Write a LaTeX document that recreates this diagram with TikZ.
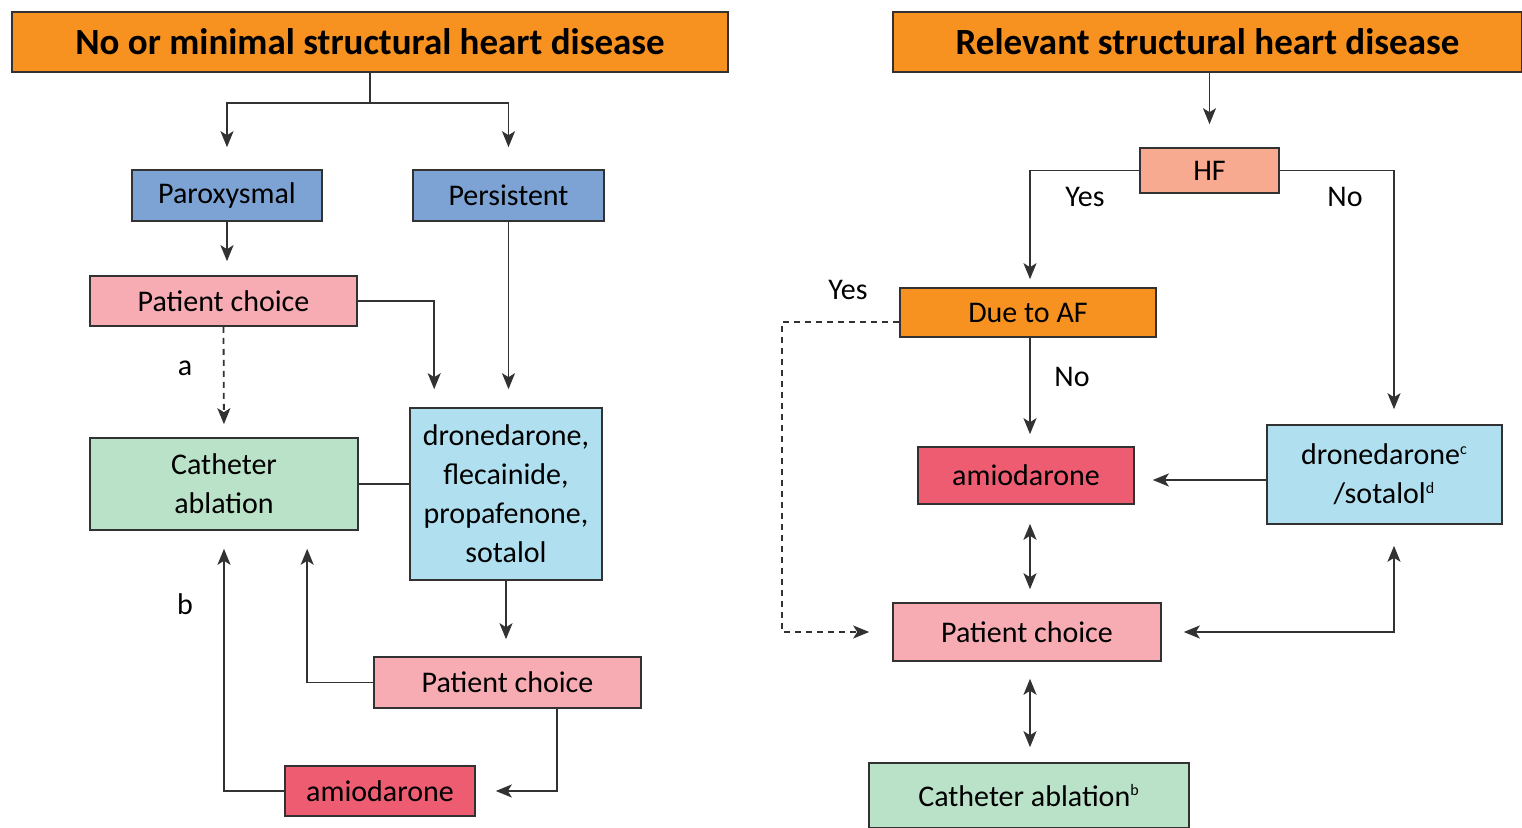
\documentclass[tikz,border=0pt]{standalone}
\usepackage{fontspec}
\setmainfont{Carlito}
\usetikzlibrary{arrows.meta,calc}
\definecolor{titleorange}{RGB}{247,146,32}
\definecolor{afblue}{RGB}{125,163,212}
\definecolor{choicepink}{RGB}{246,172,178}
\definecolor{ablgreen}{RGB}{186,226,200}
\definecolor{drugblue}{RGB}{176,224,240}
\definecolor{amiored}{RGB}{238,92,114}
\definecolor{hfsalmon}{RGB}{248,170,144}
\definecolor{edgegray}{RGB}{50,50,50}
\tikzset{every picture/.style={line width=0.75pt}}
\newcommand{\supnote}[1]{\textsuperscript{\fontsize{8}{9}\selectfont #1}}

\begin{document}
\begin{tikzpicture}[x=0.5pt,y=-0.5pt,
  box/.style={draw=edgegray,line width=0.8pt,inner sep=1pt,align=center,
    font=\fontsize{15}{19.5}\selectfont},
  titlebox/.style={box,fill=titleorange,minimum height=30pt,
    font=\bfseries\fontsize{18.5}{21}\selectfont},
  arr/.style={draw=edgegray,line width=0.9pt,-{Stealth[length=8pt,width=6.5pt,inset=2pt]}},
  darr/.style={arr,{Stealth[length=8pt,width=6.5pt,inset=2pt]}-{Stealth[length=8pt,width=6.5pt,inset=2pt]}},
  dashline/.style={arr,dash pattern=on 3pt off 2.5pt},
  lbl/.style={font=\fontsize{15}{18}\selectfont,inner sep=0pt}]
\useasboundingbox (0,0) rectangle (1522,828);

%Left branch: titles and boxes
\node[titlebox,minimum width=358pt] (titleL) at (370,42) {No or minimal structural heart disease};
\node[box,fill=afblue,minimum width=95pt,minimum height=25.5pt] (parox) at (227,195.5) {Paroxysmal};
\node[box,fill=afblue,minimum width=95.5pt,minimum height=25.5pt] (persist) at (508.5,195.5) {Persistent};
\node[box,fill=choicepink,minimum width=133.5pt,minimum height=25pt] (pcA) at (223.5,301) {Patient choice};
\node[box,fill=ablgreen,minimum width=134pt,minimum height=46pt] (cathL) at (224,484) {Catheter\\ablation};
\node[box,fill=drugblue,minimum width=96pt,minimum height=86pt] (drugs) at (506,494) {dronedarone,\\flecainide,\\propafenone,\\sotalol};
\node[box,fill=choicepink,minimum width=133.5pt,minimum height=25.5pt] (pcB) at (507.5,682.5) {Patient choice};
\node[box,fill=amiored,minimum width=95pt,minimum height=25pt] (amioL) at (380,791) {amiodarone};

%Right branch: titles and boxes
\node[titlebox,minimum width=314.5pt] (titleR) at (1207.5,42) {Relevant structural heart disease};
\node[box,fill=hfsalmon,minimum width=69.5pt,minimum height=22.5pt] (hf) at (1209.5,170.5) {HF};
\node[box,fill=titleorange,minimum width=128pt,minimum height=24.5pt] (dueaf) at (1028,312.5) {Due to AF};
\node[box,fill=amiored,minimum width=108pt,minimum height=28.5pt] (amioR) at (1026,475.5) {amiodarone};
\node[box,fill=drugblue,minimum width=117.5pt,minimum height=49.5pt] (dron) at (1384.5,474.5) {dronedarone\supnote{c}\\/sotalol\supnote{d}};
\node[box,fill=choicepink,minimum width=134pt,minimum height=29pt] (pcR) at (1027,632) {Patient choice};
\node[box,fill=ablgreen,minimum width=160pt,minimum height=32.5pt] (cathR) at (1029,795.5) {Catheter ablation\supnote{b}};

%Coordinates for bends
\coordinate (jL) at (370,103);
\coordinate (pcAdrop) at ($(drugs.north west)+(25,0)$);
\coordinate (pcBup) at ($(cathL.south west)+(218,0)$);
\coordinate (pcBout) at ($(pcB.south west)+(184,0)$);
\coordinate (dronTop) at ($(dron.north)+(9.5,0)$);
\coordinate (dronBot) at ($(dron.south)+(9.5,0)$);
\coordinate (afOut) at ($(dueaf.west)+(0,9.5)$);
\coordinate (midR) at (1030,0);

%Left connectors
\draw[edgegray,line width=0.9pt] (titleL.south) -- (jL);
\draw[arr,shorten >=11pt] (jL) -| (parox.north);
\draw[arr,shorten >=11pt] (jL) -| (persist.north);
\draw[arr,shorten >=7pt] (parox.south) -- (parox.south |- pcA.north);
\draw[arr,shorten >=9pt] (persist.south) -- (persist.south |- drugs.north);
\draw[arr,shorten >=9pt] (pcA.east) -| (pcAdrop);
\draw[dashline,shorten >=6.5pt] (pcA.south) -- (cathL.north);
\draw[edgegray,line width=0.9pt] (cathL.east) -- (cathL.east -| drugs.west);
\draw[arr,shorten >=8.5pt] (drugs.south) -- (drugs.south |- pcB.north);
\draw[arr,shorten >=9pt] (pcB.west) -| (pcBup);
\draw[arr,shorten >=10pt] (pcBout) |- (amioL.east);
\draw[arr,shorten >=9pt] (amioL.west) -| (cathL.south);

%Right connectors
\draw[arr,shorten >=11.5pt] (hf.north |- titleR.south) -- (hf.north);
\draw[arr,shorten >=4pt] (hf.west) -| (midR |- dueaf.north);
\draw[arr,shorten >=7.5pt] (hf.east) -| (dronTop);
\draw[arr,shorten >=6pt] (midR |- dueaf.south) -- (midR |- amioR.north);
\draw[dashline,shorten >=11.5pt] (afOut) -- ++(-117,0) |- (pcR.west);
\draw[arr,shorten >=9pt] (dron.west |- 0,480) -- (amioR.east |- 0,480);
\draw[darr,shorten <=9.5pt,shorten >=6.5pt] (midR |- amioR.south) -- (midR |- pcR.north);
\draw[darr,shorten <=11pt,shorten >=10.5pt] (pcR.east) -| (dronBot);
\draw[darr,shorten <=8.5pt,shorten >=7.5pt] (midR |- pcR.south) -- (midR |- cathR.north);

% Text Node
\node[lbl] (la) at (185,368) {a};
\node[lbl] (lb) at (185,604) {b};
\node[lbl] (yesHF) at (1085,197) {Yes};
\node[lbl] (noHF) at (1345,197) {No};
\node[lbl] (yesAF) at (848,290) {Yes};
\node[lbl] (noAF) at (1072,377) {No};

\end{tikzpicture}
\end{document}
